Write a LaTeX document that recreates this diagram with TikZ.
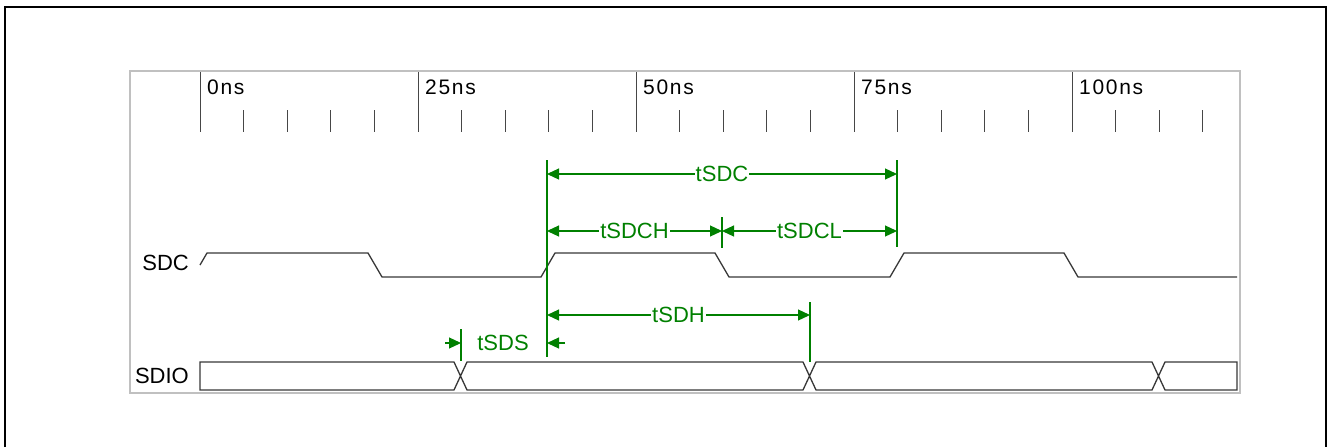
\documentclass[tikz,border=0pt]{standalone}
\usepackage{fontspec}
\setmainfont{Liberation Sans}
\usetikzlibrary{arrows.meta}
\definecolor{dimgreen}{RGB}{0,128,0}
\definecolor{boxgray}{RGB}{192,192,192}
\definecolor{sig}{RGB}{55,55,55}
\definecolor{tickc}{RGB}{70,70,70}
\begin{document}
\begin{tikzpicture}[x=1pt,y=-1pt,
  sigline/.style={draw=sig,line width=1.3pt,line join=miter},
  tickline/.style={draw=tickc,line width=1pt},
  ticklab/.style={anchor=base west,inner sep=0pt,font=\fontsize{21}{21}\selectfont\addfontfeature{LetterSpace=8}},
  siglab/.style={anchor=base east,inner sep=0pt,font=\fontsize{22}{22}\selectfont},
  dimline/.style={draw=dimgreen,line width=1.2pt},
  dimarrow/.style={dimline,{Triangle[length=12pt,width=11pt]}-{Triangle[length=12pt,width=11pt]}},
  inarrow/.style={dimline,-{Triangle[length=12pt,width=11pt]}},
  dimlab/.style={fill=white,text=dimgreen,inner sep=1pt,font=\fontsize{22}{22}\selectfont}]
\useasboundingbox (0,0) rectangle (1330,447);
% outer frame (open at the bottom)
\draw[black,line width=1.5pt] (5,447) -- (5,7) -- (1326,7) -- (1326,447);
% inner box
\draw[boxgray,line width=2pt] (130,71) rectangle (1240,393);
% time scale
\foreach \t/\lab in {0/0ns,25/25ns,50/50ns,75/75ns,100/100ns}{
  \draw[tickline] ({200+\t*8.72},72) -- ({200+\t*8.72},132);
  \node[ticklab] (lab\t) at ({207+\t*8.72},94) {\lab};
}
\foreach \t in {5,10,15,20,30,35,40,45,55,60,65,70,80,85,90,95,105,110,115}{
  \draw[tickline] ({200+\t*8.72},110) -- ({200+\t*8.72},132);
}
% signal names
\node[siglab] (sdcname) at (189,270) {SDC};
\node[siglab] (sdioname) at (189,383) {SDIO};
% SDC waveform
\draw[sigline] (200,265) -- (207,253) -- (368,253) -- (382,277) -- (541,277) -- (555,253)
  -- (715,253) -- (729,277) -- (890,277) -- (904,253) -- (1064,253) -- (1078,277) -- (1237,277);
% SDIO waveform
\draw[sigline] (200,362) -- (454,362) -- (467,390) -- (803,390) -- (816,362) -- (1152,362) -- (1165,390) -- (1237,390) -- (1237,362)
  -- (1165,362) -- (1152,390) -- (816,390) -- (803,362) -- (467,362) -- (454,390) -- (200,390) -- cycle;
% dimension reference coordinates
\coordinate (a0) at (547,160); \coordinate (a1) at (547,357);
\coordinate (b0) at (897,160); \coordinate (b1) at (897,247);
\coordinate (c0) at (722,217); \coordinate (c1) at (722,248);
\coordinate (d0) at (810,302); \coordinate (d1) at (810,362);
\coordinate (e0) at (461,329); \coordinate (e1) at (461,361);
\draw[dimline] (a0) -- (a1);
\draw[dimline] (b0) -- (b1);
\draw[dimline] (c0) -- (c1);
\draw[dimline] (d0) -- (d1);
\draw[dimline] (e0) -- (e1);
% tSDC
\coordinate (tsdcL) at (547,174); \coordinate (tsdcR) at (897,174);
\draw[dimarrow] (tsdcL) -- (tsdcR) node[dimlab,midway] (tsdc) {tSDC};
% tSDCH / tSDCL
\coordinate (tsdchL) at (547,231); \coordinate (tsdchR) at (722,231); \coordinate (tsdclR) at (897,231);
\draw[dimarrow] (tsdchL) -- (tsdchR) node[dimlab,midway] (tsdch) {tSDCH};
\draw[dimarrow] (tsdchR) -- (tsdclR) node[dimlab,midway] (tsdcl) {tSDCL};
% tSDH
\coordinate (tsdhL) at (547,315); \coordinate (tsdhR) at (810,315);
\draw[dimarrow] (tsdhL) -- (tsdhR) node[dimlab,midway] (tsdh) {tSDH};
% tSDS
\coordinate (tsdsA) at (445,343); \coordinate (tsdsB) at (461,343);
\coordinate (tsdsC) at (565,343); \coordinate (tsdsD) at (547,343);
\draw[inarrow] (tsdsA) -- (tsdsB);
\draw[inarrow] (tsdsC) -- (tsdsD);
\node[dimlab,fill=none] (tsds) at (503,343) {tSDS};
\end{tikzpicture}
\end{document}
